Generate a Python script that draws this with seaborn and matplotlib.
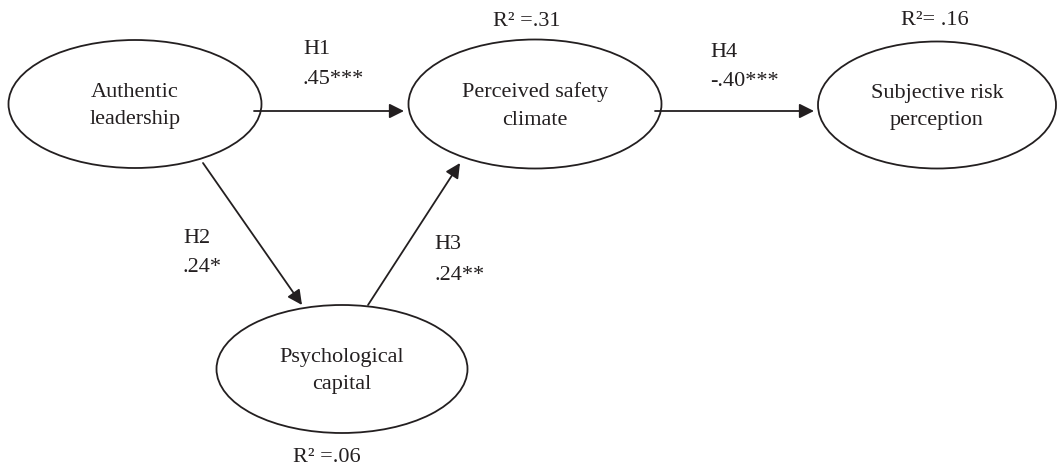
import matplotlib
matplotlib.use("Agg")
import matplotlib.pyplot as plt
import seaborn as sns
from matplotlib.patches import Ellipse

# -----------------------------
# Data: constructs, paths, R2
# -----------------------------
constructs = ["Authentic\nleadership", "Perceived safety\nclimate",
              "Subjective risk\nperception", "Psychological\ncapital"]
r2_text = [None, "R\u00b2 =.31", "R\u00b2= .16", "R\u00b2 =.06"]
hypotheses = ["H1", "H2", "H3", "H4"]
coefficients = [".45***", ".24*", ".24**", "-.40***"]

# -----------------------------
# Layout (pixels)
# -----------------------------
node_xy = [(135, 104), (535, 104), (937, 105), (342, 369)]
node_wh = [(253, 128), (253, 129), (238, 127), (251, 128)]
r2_xy = [None, (527, 26), (935, 25), (327, 462)]
path_start = [(254, 111), (203, 163), (368, 305), (655, 111)]
path_end = [(404, 111), (302, 305), (460, 163), (814, 111)]
label_xy = [(303, 54), (183, 243), (434, 249), (710, 57)]
coef_xy = [(303, 84), (183, 272), (434, 280), (710, 86)]

sns.set_theme(style="white")
plt.rcParams['font.family'] = ['Liberation Serif', 'DejaVu Serif']
ink = "#231f20"

fig = plt.figure(figsize=(10.58, 4.68), dpi=100)
ax = fig.add_axes([0, 0, 1, 1])
ax.set_xlim(0, 1058)
ax.set_ylim(468, 0)
ax.axis("off")

for i, name in enumerate(constructs):
    x, y = node_xy[i]
    w, h = node_wh[i]
    ax.add_patch(Ellipse((x, y), w, h, facecolor="white", edgecolor=ink, lw=1.3))
    ax.text(x, y + 2, name, ha="center", va="center", fontsize=16, color=ink,
            linespacing=1.6)
    if r2_text[i]:
        ax.text(r2_xy[i][0], r2_xy[i][1], r2_text[i], ha="center",
                va="baseline", fontsize=16, color=ink)

for i in range(len(hypotheses)):
    ax.annotate("", xy=path_end[i], xytext=path_start[i],
                arrowprops=dict(arrowstyle="-|>", color=ink, lw=1.3,
                                mutation_scale=22, shrinkA=0, shrinkB=0))
    ax.text(*label_xy[i], hypotheses[i], ha="left", va="baseline",
            fontsize=16, color=ink)
    ax.text(*coef_xy[i], coefficients[i], ha="left", va="baseline",
            fontsize=16, color=ink)

fig.savefig("out.png", dpi=100, facecolor="white")
